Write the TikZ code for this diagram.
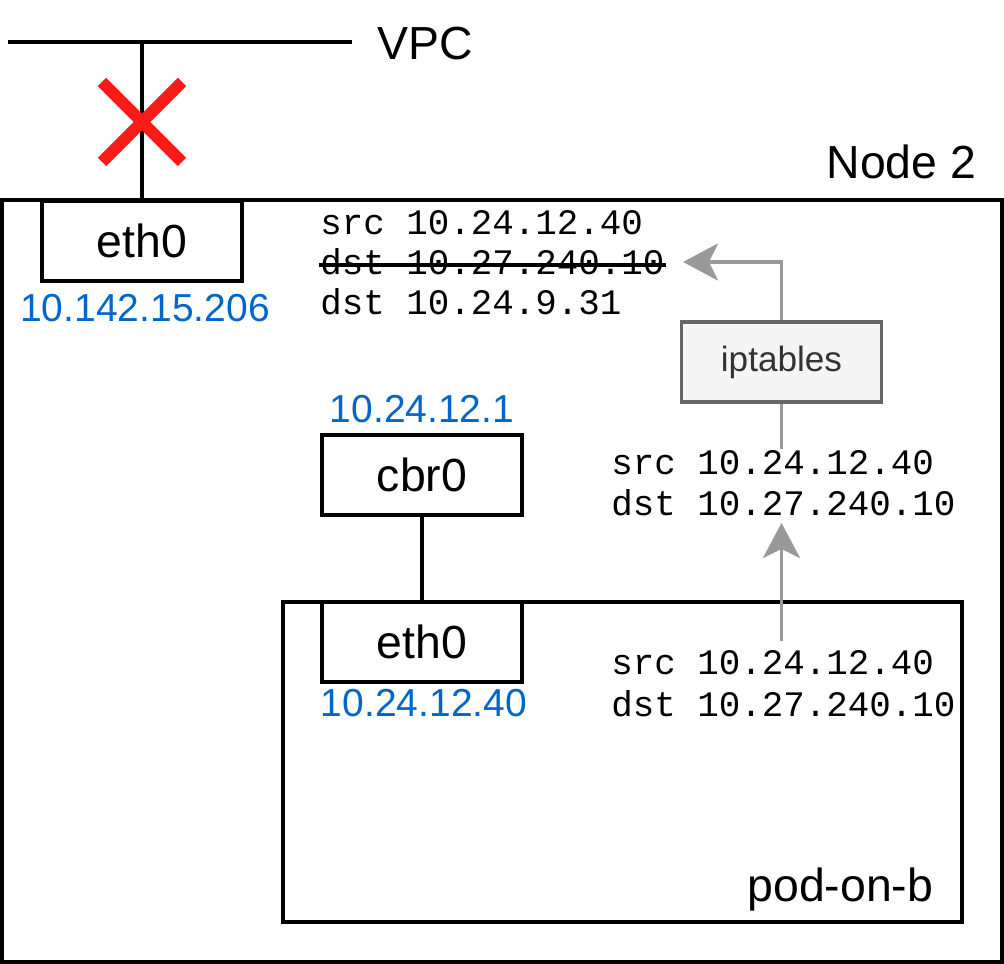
\documentclass[tikz,border=0pt]{standalone}
\usepackage{fontspec}
\setmainfont{Liberation Sans}
\setmonofont{Liberation Mono}
\usepackage{tikz}
\usetikzlibrary{arrows.meta}
\definecolor{ipblue}{HTML}{0066CC}
\definecolor{xred}{HTML}{FF1A1A}
\definecolor{flowgray}{HTML}{999999}
\definecolor{boxgray}{HTML}{666666}
\definecolor{boxfill}{HTML}{F5F5F5}
\definecolor{txtgray}{HTML}{333333}

\begin{document}
\begin{tikzpicture}[>={Stealth[length=3.5mm,width=3.7mm,inset=0.9mm]},
  line width=1pt,
  iface/.style={draw, minimum width=2cm, minimum height=0.8cm, inner sep=0, font=\fontsize{13.2}{15}\selectfont},
  ipaddr/.style={inner sep=0, anchor=base, text=ipblue, font=\fontsize{11.1}{13}\selectfont},
  pkt/.style={inner sep=0, anchor=base west, font=\ttfamily\fontsize{10.2}{12}\selectfont},
  boxlabel/.style={inner sep=0, font=\fontsize{13.2}{15}\selectfont},
  flow/.style={draw=flowgray, line width=1pt}]
	\useasboundingbox (0,0) rectangle (10.04,9.64);
	% vpc
	\coordinate (vpcL) at (0.08,9.22);
	\coordinate (vpcR) at (3.52,9.22);
	\draw (vpcL) -- (vpcR);
	\node[boxlabel, anchor=base west] (vpc) at (3.76,9.04) {VPC};
	% node 2
	\node[draw, minimum width=10cm, minimum height=7.62cm, inner sep=0] (node2) at (5.02,3.83) {};
	\node[boxlabel, anchor=base east] (node2lbl) at (9.78,7.85) {Node 2};
	\node[iface] (eth0) at (1.42,7.23) {eth0};
	\draw (eth0.north |- vpcL) -- (eth0.north);
	\draw[xred, line width=3.4pt] (1.02,8.82) -- (1.82,8.02) (1.02,8.02) -- (1.82,8.82);
	\node[ipaddr] (eth0ip) at (1.45,6.42) {10.142.15.206};
	% packet after iptables
	\node[pkt] (src1) at (3.185,7.29) {src 10.24.12.40};
	\node[pkt] (dst1) at (3.185,6.89) {dst 10.27.240.10};
	\node[pkt] (new1) at (3.185,6.49) {dst 10.24.9.31};
	\draw ([yshift=1mm]dst1.base west) -- ([yshift=1mm]dst1.base east);
	% iptables
	\node[draw=boxgray, fill=boxfill, text=txtgray, minimum width=2cm, minimum height=0.8cm, font=\fontsize{10}{12}\selectfont] (ipt) at (7.815,6.02) {iptables};
	\coordinate (dst1tip) at (6.83,7.02);
	\draw[flow,->] (ipt.north) |- (dst1tip);
	\node[pkt] (src2) at (6.095,4.89) {src 10.24.12.40};
	\node[pkt] (dst2) at (6.095,4.48) {dst 10.27.240.10};
	\draw[flow] (ipt.south) -- (ipt.south |- src2.north);
	% cbr0
	\node[iface] (cbr0) at (4.22,4.89) {cbr0};
	\node[ipaddr] (cbr0ip) at (4.22,5.41) {10.24.12.1};
	% pod
	\node[draw, minimum width=6.79cm, minimum height=3.2cm, inner sep=0] (pod) at (6.225,2.02) {};
	\node[boxlabel, anchor=base east] (podlbl) at (9.35,0.62) {pod-on-b};
	\node[iface] (ethp) at (4.22,3.22) {eth0};
	\draw (cbr0) -- (ethp);
	\node[ipaddr] (ethpip) at (4.24,2.47) {10.24.12.40};
	\node[pkt] (src3) at (6.095,2.89) {src 10.24.12.40};
	\node[pkt] (dst3) at (6.095,2.47) {dst 10.27.240.10};
	\coordinate (podout) at (7.815,3.23);
	\coordinate (podin) at (7.815,4.41);
	\draw[flow,->] (podout) -- (podin);
\end{tikzpicture}
\end{document}
